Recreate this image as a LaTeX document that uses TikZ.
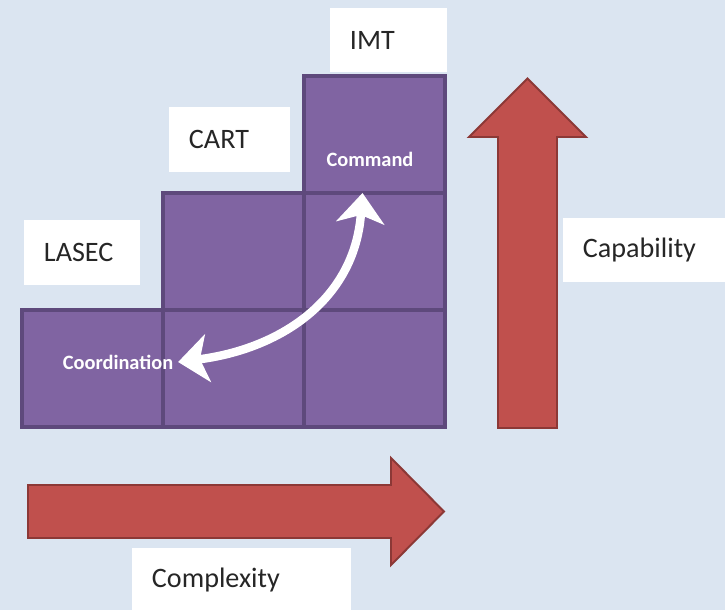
\documentclass[tikz,border=0pt]{standalone}
\usepackage{fontspec}
\setmainfont{Carlito}
\usepackage{xcolor}
\definecolor{bgblue}{RGB}{219, 229, 241}
\definecolor{cellpurple}{RGB}{128, 100, 162}
\definecolor{edgepurple}{RGB}{94, 73, 124}
\definecolor{arrowred}{RGB}{192, 80, 77}
\definecolor{edgered}{RGB}{140, 56, 54}
\usetikzlibrary{arrows.meta, positioning}

\begin{document}
\begin{tikzpicture}[
    x=0.025cm, y=-0.025cm,
    cell/.style={rectangle, draw=edgepurple, fill=cellpurple, line width=2.2pt, minimum width=3.525cm, minimum height=2.925cm, outer sep=0pt},
    tag/.style={rectangle, fill=white, text=black!85, text width=#1, align=left, inner xsep=0.5cm, minimum height=1.6cm, font=\fontsize{20}{24}\selectfont},
    celltext/.style={text=white, font=\bfseries\fontsize{14.5}{17}\selectfont},
    bigarrow/.style={draw=edgered, fill=arrowred, line width=1.4pt, line join=miter},
    swing/.style={{Stealth[length=0.75cm, width=1.2cm, inset=0.2cm]}-{Stealth[length=0.75cm, width=1.2cm, inset=0.2cm]}, draw=white, line width=6pt}
]
    \useasboundingbox (0, 0) rectangle (725, 610);
    \fill[bgblue] (0, 0) rectangle (725, 610);

    \draw[bigarrow] (28, 485) -- (391, 485) -- (391, 458) -- (444, 511.5) -- (391, 565) -- (391, 538) -- (28, 538) -- cycle;
    \draw[bigarrow] (498, 428) -- (498, 137) -- (469, 137) -- (527.5, 78.5) -- (586, 137) -- (557, 137) -- (557, 428) -- cycle;

    \node[cell] (c11) at (92.5, 368.5) {};
    \node[cell] (c12) at (233.5, 368.5) {};
    \node[cell] (c13) at (374.5, 368.5) {};
    \node[cell] (c22) at (233.5, 251.5) {};
    \node[cell] (c23) at (374.5, 251.5) {};
    \node[cell] (c33) at (374.5, 134.5) {};

    \node[tag=1.925cm] (imt) at (388.5, 40) {IMT};
    \node[tag=2.025cm] (cart) at (229.5, 139.5) {CART};
    \node[tag=1.9cm] (lasec) at (82, 252.5) {LASEC};
    \node[tag=3.25cm] (capability) at (648, 250) {Capability};
    \node[tag=4.475cm] (complexity) at (241.5, 580) {Complexity};

    \node[celltext] (cmd) at (370, 159) {Command};
    \node[celltext] (coord) at (118, 362) {Coordination};

    \draw[swing] (coord.east) .. controls +(102, -13) and +(-8, 107) .. ([xshift=-0.3cm]c33.south);
\end{tikzpicture}
\end{document}
